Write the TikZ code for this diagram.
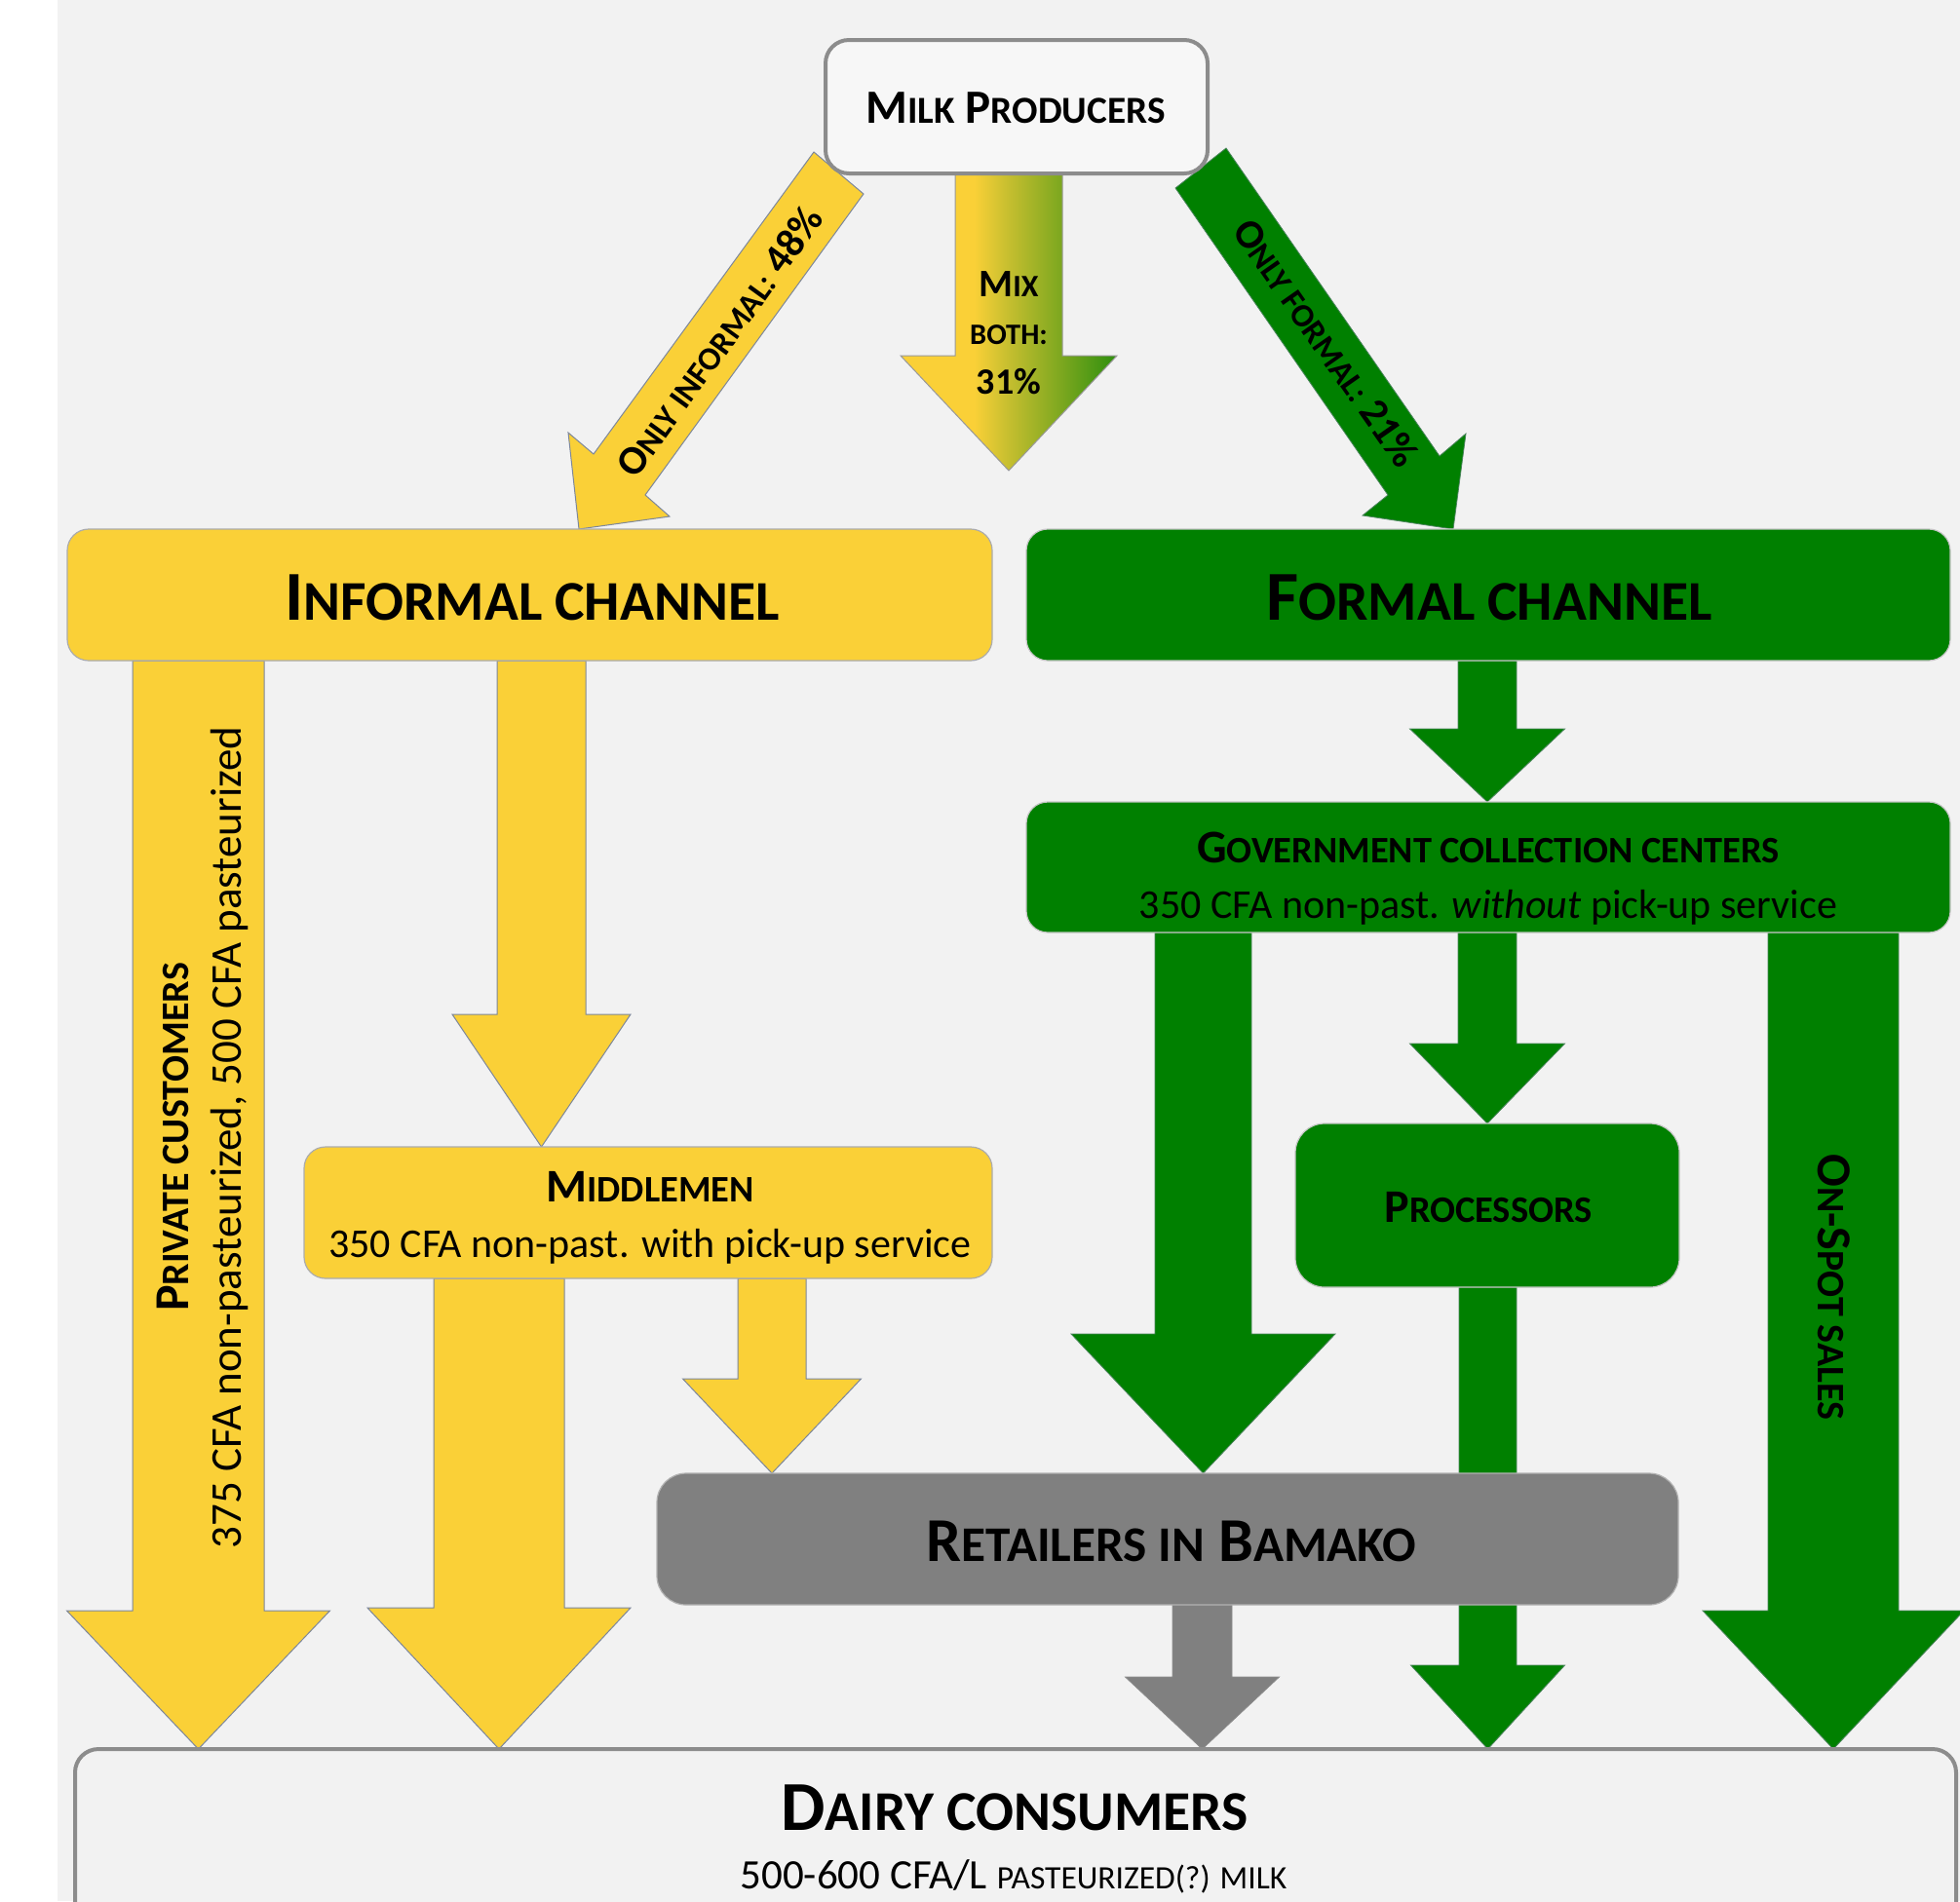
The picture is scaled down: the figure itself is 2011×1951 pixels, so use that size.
\documentclass[tikz,border=0pt]{standalone}
\usepackage{fontspec}
\setmainfont{Carlito}
\usepackage{graphicx}
\usetikzlibrary{calc}
\definecolor{myyellow}{RGB}{250,208,55}
\definecolor{mygreen}{RGB}{0,128,0}
\definecolor{mygrey}{RGB}{128,128,128}
\definecolor{bggrey}{RGB}{242,242,242}
\definecolor{milkfill}{RGB}{247,247,247}
\definecolor{edgegrey}{RGB}{140,140,140}
\definecolor{arrowedge}{RGB}{125,135,155}
\definecolor{mixmid}{RGB}{197,190,47}
\definecolor{mixgreen}{RGB}{46,143,14}
\pgfdeclarehorizontalshading{mixsh}{100bp}{color(0bp)=(myyellow); color(42bp)=(myyellow); color(50bp)=(mixmid); color(75bp)=(mixgreen); color(100bp)=(mixgreen)}
\pgfdeclarelayer{bglayer}
\pgfdeclarelayer{arrowlayer}
\pgfsetlayers{bglayer,arrowlayer,main}
\newcommand\smc[1]{\scalebox{0.8}{#1}}
\newcommand\fs[1]{\fontsize{#1}{#1}\selectfont}
% #1 style, #2 x centre, #3 half shaft, #4 half head, #5 from anchor, #6 head base y, #7 to anchor
\newcommand\varrow[7]{%
  \filldraw[#1] (#2-#3,0 |- #5) -- (#2+#3,0 |- #5) -- (#2+#3,#6) -- (#2+#4,#6)
    -- (#2,0 |- #7) -- (#2-#4,#6) -- (#2-#3,#6) -- cycle;}
\tikzset{
  yarrow/.style={fill=myyellow, draw=arrowedge, line width=0.5pt},
  garrow/.style={fill=mygreen, draw=arrowedge!60!mygreen, line width=0.4pt},
  grarrow/.style={fill=mygrey, draw=gray!90, line width=0.4pt},
  ybox/.style={rectangle, fill=myyellow, draw=gray!65, line width=0.6pt, rounded corners=11pt, inner sep=0pt, outer sep=0pt},
  gbox/.style={rectangle, fill=mygreen, draw=gray!45, line width=0.6pt, rounded corners=11pt, inner sep=0pt, outer sep=0pt},
  greybox/.style={rectangle, fill=mygrey, draw=gray!60, line width=0.6pt, rounded corners=15pt, inner sep=0pt, outer sep=0pt},
  endbox/.style={rectangle, fill=#1, draw=edgegrey, line width=2pt, rounded corners=12pt, inner sep=0pt, outer sep=0pt},
  txt/.style={inner sep=0pt, outer sep=0pt, anchor=base}
}
\begin{document}
\begin{tikzpicture}[x=0.5pt,y=-0.5pt]
\useasboundingbox (0,0) rectangle (2011,1951);
\begin{pgfonlayer}{bglayer}
\fill[white] (0,0) rectangle (2011,1951);
\fill[bggrey] (59,0) rectangle (2011,1951);
\end{pgfonlayer}

% boxes
\node[endbox=milkfill, minimum width=196pt, minimum height=68.5pt] (milk) at (1043,109.5) {};
\node[ybox, minimum width=474.5pt, minimum height=67.5pt] (inf) at (543.5,610.5) {};
\node[gbox, minimum width=474pt, minimum height=67.5pt] (form) at (1527,610.5) {};
\node[gbox, minimum width=474pt, minimum height=67pt] (gov) at (1527,890) {};
\node[gbox, rounded corners=15pt, minimum width=197pt, minimum height=84pt] (proc) at (1526,1237) {};
\node[ybox, minimum width=353pt, minimum height=67.5pt] (mid) at (665,1244.5) {};
\node[greybox, minimum width=524pt, minimum height=67.5pt] (ret) at (1198,1579.5) {};
\node[endbox=bggrey, minimum width=965pt, minimum height=97pt] (cons) at (1042,1892) {};
\coordinate (mixtip) at (1035,483);

% arrows
\begin{pgfonlayer}{arrowlayer}
\filldraw[yarrow] (835,156) -- (886,199) -- (662,508) -- (687,530) -- (594,0 |- inf.north) -- (583,444) -- (609,466) -- cycle;
\filldraw[garrow] (1206,193) -- (1258,152) -- (1477,468) -- (1504,445) -- (1491,0 |- form.north) -- (1398,529) -- (1424,508) -- cycle;
\shadedraw[shading=mixsh, draw=gray!80, line width=0.5pt] (980,0 |- milk.south) -- (1090,0 |- milk.south) -- (1090,365) -- (1146,365) -- (mixtip) -- (924,365) -- (980,365) -- cycle;
\varrow{garrow}{1526}{30}{79.5}{form.south}{748}{gov.north}
\varrow{garrow}{1526}{30}{79.5}{gov.south}{1071}{proc.north}
\varrow{garrow}{1234.5}{49.5}{135.5}{gov.south}{1369}{ret.north}
\varrow{garrow}{1526.5}{29.5}{79}{proc.south}{1709}{cons.north}
\varrow{garrow}{1881}{67}{134}{gov.south}{1653}{cons.north}
\varrow{grarrow}{1233.5}{30.5}{79}{ret.south}{1721}{cons.north}
\varrow{yarrow}{203.5}{67.5}{135}{inf.south}{1653}{cons.north}
\varrow{yarrow}{555.5}{45.5}{91.5}{inf.south}{1041}{mid.north}
\varrow{yarrow}{512}{67}{135}{mid.south}{1650}{cons.north}
\varrow{yarrow}{792}{35}{91.5}{mid.south}{1415}{ret.north}
\end{pgfonlayer}

% texts
\node[txt] (milkT) at (1042,126) {\bfseries\fs{24.5pt}M\smc{ILK} P\smc{RODUCERS}};
\node[txt] (infT) at (546,636) {\bfseries\fs{36pt}I\smc{NFORMAL CHANNEL}};
\node[txt] (formT) at (1528,636) {\bfseries\fs{36pt}F\smc{ORMAL CHANNEL}};
\node[txt] (govT) at (1527,885) {\bfseries\fs{24pt}G\smc{OVERNMENT COLLECTION CENTERS}};
\node[txt] (govP) at (1527,942) {\fs{21pt}350 CFA non-past. \textit{without} pick-up service};
\node[txt] (procT) at (1527,1254) {\bfseries\fs{24pt}P\smc{ROCESSORS}};
\node[txt] (midT) at (667,1233) {\bfseries\fs{24pt}M\smc{IDDLEMEN}};
\node[txt] (midP) at (667,1290) {\fs{21pt}350 CFA non-past. with pick-up service};
\node[txt] (retT) at (1202,1602) {\bfseries\fs{32pt}R\smc{ETAILERS IN} B\smc{AMAKO}};
\node[txt] (consT) at (1041,1878) {\bfseries\fs{36pt}D\smc{AIRY CONSUMERS}};
\node[txt] (consP) at (1040,1938) {\fs{21.5pt}500-600 CFA/L \scalebox{0.78}{PASTEURIZED(?) MILK}};
\node[txt] (mixA) at (1035,304) {\bfseries\fs{20pt}M\smc{IX}};
\node[txt] (mixB) at (1035,353) {\bfseries\fs{19pt}\smc{BOTH:}};
\node[txt] (mixC) at (1035,404) {\bfseries\fs{19pt}31\%};
\node[inner sep=0pt, rotate=54] (infL) at (738,350) {\bfseries\fs{21pt}O\smc{NLY INFORMAL:} 48\%};
\node[inner sep=0pt, rotate=-55] (formL) at (1361,352) {\bfseries\fs{21pt}O\smc{NLY FORMAL:} 21\%};
\node[txt, rotate=90] (privT) at (193,1167) {\bfseries\fs{25pt}P\smc{RIVATE CUSTOMERS}};
\node[txt, rotate=90] (privP) at (247,1167.5) {\fs{22.5pt}375 CFA non-pasteurized, 500 CFA pasteurized};
\node[txt, rotate=-90] (spotT) at (1865,1321) {\bfseries\fs{25pt}O\smc{N}-S\smc{POT SALES}};
\end{tikzpicture}
\end{document}
